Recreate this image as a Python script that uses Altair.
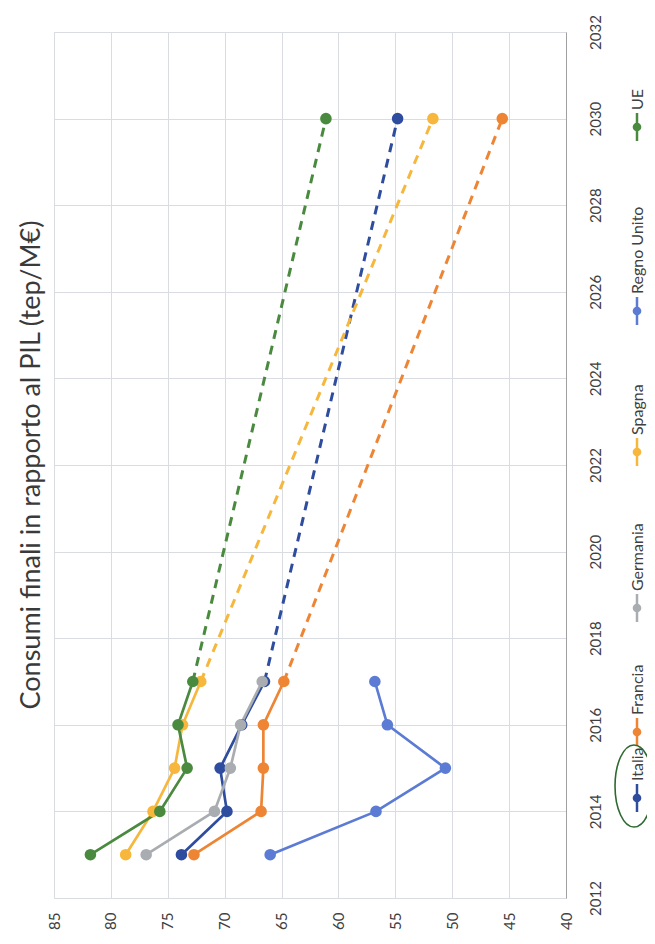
import altair as alt
import pandas as pd

# ---------------- data ----------------
series = ["Italia", "Francia", "Germania", "Spagna", "Regno Unito", "UE"]
colors = ["#2F4D9E", "#EE8535", "#A9ADB1", "#F6B73C", "#5B7BD4", "#4A8A3F"]

years = [2013, 2014, 2015, 2016, 2017]
italia = [73.8, 69.8, 70.4, 68.5, 66.5]
francia = [72.7, 66.8, 66.6, 66.6, 64.8]
germania = [76.9, 70.9, 69.5, 68.6, 66.7]
spagna = [78.7, 76.3, 74.4, 73.7, 72.1]
regno_unito = [66.0, 56.7, 50.6, 55.7, 56.8]
ue = [81.8, 75.7, 73.3, 74.1, 72.8]

target_year = 2030
target_series = ["Italia", "Francia", "Spagna", "UE"]
target_values = [54.8, 45.6, 51.7, 61.1]

value_ticks = [40, 45, 50, 55, 60, 65, 70, 75, 80, 85]
year_ticks = [2012, 2014, 2016, 2018, 2020, 2022, 2024, 2026, 2028, 2030, 2032]
title_text = "Consumi finali in rapporto al PIL (tep/M€)"

# ---------------- tables ----------------
hist_values = [italia, francia, germania, spagna, regno_unito, ue]
rows = []
for name, vals in zip(series, hist_values):
    for yr, v in zip(years, vals):
        rows.append({"series": name, "year": yr, "value": v})
df_hist = pd.DataFrame(rows)

last = dict(zip(series, [vals[-1] for vals in hist_values]))
prow = []
for name, tv in zip(target_series, target_values):
    prow.append({"series": name, "year": years[-1], "value": last[name]})
    prow.append({"series": name, "year": target_year, "value": tv})
df_proj = pd.DataFrame(prow)
df_target = pd.DataFrame({"series": target_series,
                          "year": [target_year] * len(target_series),
                          "value": target_values})
df_points = pd.concat([df_hist, df_target], ignore_index=True)

# ---------------- layout ----------------
W, H = 512, 866
FONT = "Lato"
TXT = "#404040"
GRID = "#d9dce1"

xenc = alt.X("value:Q",
             scale=alt.Scale(domain=[40, 85], reverse=True, nice=False, zero=False),
             axis=alt.Axis(values=value_ticks, labelAngle=270, labelAlign="right",
                           labelBaseline="middle", grid=True, gridColor=GRID,
                           ticks=False, domain=False, labelPadding=14, title=None,
                           labelFont=FONT, labelFontSize=15, labelColor=TXT))
yenc = alt.Y("year:Q",
             scale=alt.Scale(domain=[2012, 2032], nice=False, zero=False),
             axis=alt.Axis(orient="right", values=year_ticks, format="d",
                           labelAngle=270, labelAlign="center", labelBaseline="top",
                           grid=True, gridColor=GRID, ticks=False, domain=True,
                           domainColor="#a0a0a0", labelPadding=22, title=None,
                           labelFont=FONT, labelFontSize=15, labelColor=TXT))
cenc = alt.Color("series:N", scale=alt.Scale(domain=series, range=colors), legend=None)

dashed = alt.Chart(df_proj).mark_line(strokeWidth=3, strokeDash=[9, 7]).encode(
    x=xenc, y=yenc, color=cenc, order=alt.Order("year:Q"))
solid = alt.Chart(df_hist).mark_line(strokeWidth=2.7).encode(
    x=xenc, y=yenc, color=cenc, order=alt.Order("year:Q"))
points = alt.Chart(df_points).mark_circle(size=135, opacity=1).encode(
    x=xenc, y=yenc, color=cenc)

# ---------------- legend (rotated, drawn as marks right of the axis) ----------------
LEG_X = 583
legend_centers = [766, 700, 576, 420, 279, 95]  # pixel layout of legend symbols
legend_layers = []
for name, col, ly in zip(series, colors, legend_centers):
    d = pd.DataFrame({"series": [name]})
    legend_layers.append(alt.Chart(d).mark_rule(strokeWidth=2.5, color=col).encode(
        x=alt.value(LEG_X), y=alt.value(ly - 14), y2=alt.value(ly + 14)))
    legend_layers.append(alt.Chart(d).mark_circle(size=75, opacity=1, color=col).encode(
        x=alt.value(LEG_X), y=alt.value(ly)))
    legend_layers.append(alt.Chart(d).mark_text(
        text=name, angle=270, align="left", baseline="middle", font=FONT,
        fontSize=16, color=TXT).encode(x=alt.value(LEG_X + 1), y=alt.value(ly - 17)))

ellipse_path = "M0,-1 A0.463,1 0 1,0 0,1 A0.463,1 0 1,0 0,-1 Z"
ellipse = alt.Chart(pd.DataFrame({"series": ["Italia"]})).mark_point(
    shape=ellipse_path, size=6724, filled=False, color="#2E6A30", strokeWidth=1.6,
    opacity=1).encode(x=alt.value(580), y=alt.value(754))

chart = alt.layer(dashed, solid, points, *legend_layers, ellipse).properties(
    width=W, height=H,
    title=alt.TitleParams(title_text, orient="left", anchor="middle", angle=270,
                          baseline="bottom", font=FONT, fontSize=27,
                          fontWeight="normal", color="#3a3a3a", offset=-26),
    autosize=alt.AutoSizeParams(type="none"),
    padding={"left": 46, "top": 24, "right": 81, "bottom": 36},
).configure_view(stroke=None).configure(background="white")

chart.save("out.html", embed_options={"renderer": "svg", "actions": False})
